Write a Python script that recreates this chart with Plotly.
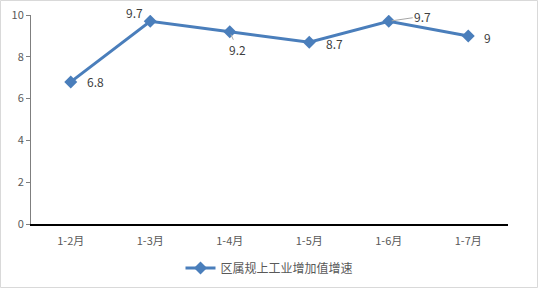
import plotly.graph_objects as go

categories = ["1-2月", "1-3月", "1-4月", "1-5月", "1-6月", "1-7月"]
values = [6.8, 9.7, 9.2, 8.7, 9.7, 9.0]
labels = ["6.8", "9.7", "9.2", "8.7", "9.7", "9"]
series_name = "区属规上工业增加值增速"

W, H = 538, 288
L, R, T, B = 31, 30, 15, 64
pw, ph = W - L - R, H - T - B

color = "#4a7ebb"
font_family = "Noto Sans CJK SC, DejaVu Sans, sans-serif"

fig = go.Figure()
fig.add_trace(go.Scatter(
    x=categories, y=values, mode="lines+markers", name=series_name,
    line=dict(color=color, width=3),
    marker=dict(symbol="diamond", size=10, color=color),
))

# (dx, dy, leader line)
offsets = [(25, 0, False), (-16, -9, False), (8, 18, True), (25, 1, False),
           (34, -5, True), (19, 2, False)]
for c, v, t, (dx, dy, lead) in zip(categories, values, labels, offsets):
    if lead:
        fig.add_annotation(x=c, y=v, text=t, showarrow=True, ax=dx, ay=dy,
                           arrowhead=0, arrowwidth=1, arrowcolor="#a6a6a6", standoff=3,
                           font=dict(size=12, color="#404040", family=font_family))
    else:
        fig.add_annotation(x=c, y=v, text=t, showarrow=False, xshift=dx, yshift=-dy,
                           font=dict(size=12, color="#404040", family=font_family))

# border around chart
fig.add_shape(type="rect", xref="paper", yref="paper",
              x0=-(L - 0.5) / pw, x1=1 + (R - 0.5) / pw,
              y0=-(B - 0.5) / ph, y1=1 + (T - 0.5) / ph,
              line=dict(color="#d9d9d9", width=1), fillcolor="rgba(0,0,0,0)")

fig.update_layout(
    width=W, height=H, margin=dict(l=L, r=R, t=T, b=B, autoexpand=False),
    paper_bgcolor="white", plot_bgcolor="white",
    font=dict(family=font_family, size=11, color="#595959"),
    showlegend=True,
    legend=dict(orientation="h", x=0.5, xanchor="center",
                yref="container", y=1 - 268 / H, yanchor="middle",
                font=dict(size=12, color="#595959")),
    xaxis=dict(type="category", range=[-0.5, 5.5], showgrid=False, automargin=False,
               showline=True, linecolor="black", linewidth=1.5, ticks="",
               ticklabelstandoff=6,
               tickfont=dict(size=11, color="#595959")),
    yaxis=dict(range=[0, 10], dtick=2, showgrid=False, zeroline=False, automargin=False,
               showline=True, linecolor="#7f7f7f", linewidth=1,
               ticks="outside", ticklen=4, tickcolor="#7f7f7f",
               tickfont=dict(size=11, color="#595959")),
)

fig.write_html("out.html")
